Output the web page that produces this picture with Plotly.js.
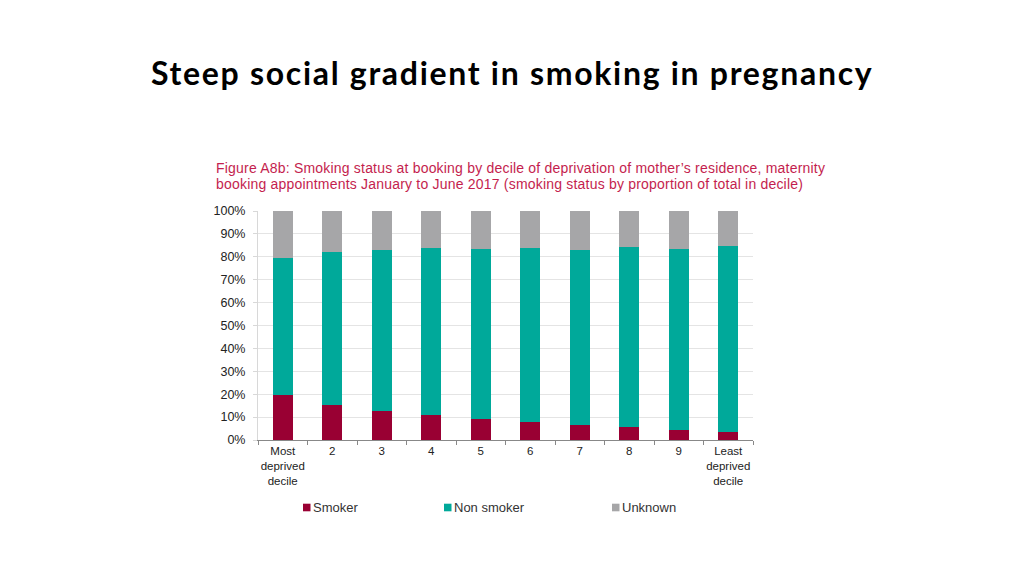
<!DOCTYPE html>
<html>
<head>
<meta charset="utf-8">
<script src="https://cdn.plot.ly/plotly-3.0.1.min.js"></script>
<style>html,body{margin:0;padding:0;background:#fff;}#chart{width:1024px;height:576px;}</style>
</head>
<body>
<div id="chart"></div>
<script>
const categories = ["Most<br>deprived<br>decile", "2", "3", "4", "5", "6", "7", "8", "9", "Least<br>deprived<br>decile"];
const smoker    = [19.5, 15.3, 12.8, 10.9, 9.2, 7.7, 6.5, 5.7, 4.5, 3.5];
const nonSmoker = [60.1, 66.9, 70.0, 73.1, 74.3, 76.1, 76.6, 78.7, 78.9, 81.3];
const unknown   = [20.4, 17.8, 17.2, 16.0, 16.5, 16.2, 16.9, 15.6, 16.6, 15.2];
const seriesNames = ["Smoker", "Non smoker", "Unknown"];
const tickVals = [0, 10, 20, 30, 40, 50, 60, 70, 80, 90, 100];
const tickText = ["0%", "10%", "20%", "30%", "40%", "50%", "60%", "70%", "80%", "90%", "100%"];

const colors = ["#990033", "#00A99A", "#A6A6A8"];
const FONT = "Liberation Sans, Arial, sans-serif";
const traces = [smoker, nonSmoker, unknown].map((vals, i) => ({
  type: "bar",
  x: categories,
  y: vals,
  name: seriesNames[i],
  marker: { color: colors[i], line: { width: 0 } },
  hoverinfo: "x+y+name"
}));

const plotL = 258, plotW = 495, plotT = 211, plotH = 229;
function px2x(px) { return (px - plotL) / plotW; }
function px2y(py) { return (plotT + plotH - py) / plotH; }

// custom legend (swatch + label), positioned in paper units
const legendX = [303, 444, 612];
const legendY = 507.5;
const shapes = seriesNames.map((n, i) => ({
  type: "rect", xref: "paper", yref: "paper",
  x0: px2x(legendX[i]), x1: px2x(legendX[i] + 7.5),
  y0: px2y(legendY - 3.8), y1: px2y(legendY + 3.8),
  fillcolor: colors[i], line: { width: 0 }
}));
const legendAnn = seriesNames.map((n, i) => ({
  xref: "paper", yref: "paper", x: px2x(legendX[i] + 8), y: px2y(legendY),
  xanchor: "left", yanchor: "middle", showarrow: false, text: n,
  font: { family: FONT, size: 13, color: "#333" }
}));

const subLines = [
  "Figure A8b: Smoking status at booking by decile of deprivation of mother\u2019s residence, maternity",
  "booking appointments January to June 2017 (smoking status by proportion of total in decile)"
];
const subAnn = subLines.map((t, i) => ({
  xref: "paper", yref: "paper", x: px2x(214), y: px2y(167.5 + i * 16),
  xanchor: "left", yanchor: "middle", align: "left", showarrow: false,
  text: "<span style=\"letter-spacing:0.2px\">" + t + "</span>",
  font: { family: FONT, size: 14, color: "#C41E4E" }
}));

const layout = {
  width: 1024, height: 576,
  margin: { l: plotL, r: 1024 - plotL - plotW, t: plotT, b: 576 - plotT - plotH, pad: 0 },
  paper_bgcolor: "#fff", plot_bgcolor: "#fff",
  barmode: "stack",
  bargap: 0.6,
  showlegend: false,
  xaxis: {
    type: "category",
    tickson: "boundaries",
    tickangle: 0,
    ticks: "outside", ticklen: 4, tickcolor: "#888",
    showline: true, linecolor: "#888", linewidth: 1,
    showgrid: false,
    tickfont: { family: FONT, size: 11.5, color: "#222" },
    fixedrange: true
  },
  yaxis: {
    range: [0, 100],
    tickvals: tickVals, ticktext: tickText,
    ticks: "outside", ticklen: 4, tickcolor: "#d8d8d8",
    ticklabelstandoff: 5,
    showline: true, linecolor: "#d8d8d8", linewidth: 1,
    showgrid: true, gridcolor: "#e4e4e4", gridwidth: 1,
    zeroline: false,
    tickfont: { family: FONT, size: 12.5, color: "#222" },
    fixedrange: true
  },
  shapes: shapes,
  annotations: [
    {
      xref: "paper", yref: "paper", x: px2x(512), y: px2y(73), xanchor: "center", yanchor: "middle",
      showarrow: false,
      text: "<b><span style=\"letter-spacing:1.7px\">Steep social gradient in smoking in pregnancy</span></b>",
      font: { family: "Lato, Open Sans, sans-serif", size: 32, color: "#000" }
    }
  ].concat(subAnn, legendAnn)
};

Plotly.newPlot("chart", traces, layout, { displayModeBar: false, staticPlot: true });
</script>
</body>
</html>
